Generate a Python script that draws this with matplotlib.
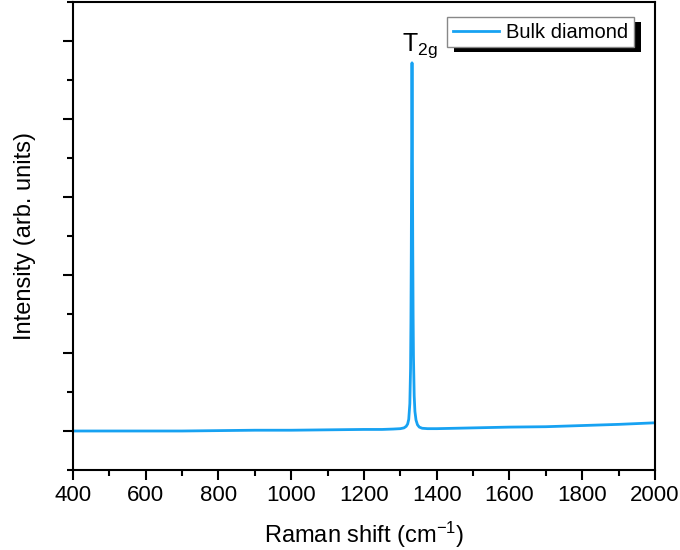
import matplotlib

matplotlib.use("Agg")
import matplotlib.pyplot as plt
from matplotlib.patches import Rectangle
from matplotlib.ticker import MultipleLocator

plt.rcParams["font.family"] = ["Liberation Sans", "DejaVu Sans"]
plt.rcParams["mathtext.default"] = "regular"

# Raman spectrum of bulk diamond
shift = [400, 500, 600, 700, 800, 900, 1000, 1100, 1200, 1250, 1280, 1300, 1310,
         1316, 1320, 1323, 1326, 1328, 1329, 1330, 1331, 1332, 1333, 1334, 1335,
         1336, 1338, 1340, 1343, 1347, 1352, 1360, 1375, 1400, 1500, 1600, 1700,
         1800, 1900, 2000]
intensity = [0.0, 0.0, 0.0, 0.0, 0.005, 0.01, 0.01, 0.015, 0.02, 0.02, 0.025, 0.03, 0.04,
             0.06, 0.09, 0.15, 0.35, 0.8, 1.4, 2.3, 3.6, 4.72, 3.7, 2.4, 1.5,
             0.95, 0.45, 0.25, 0.14, 0.08, 0.05, 0.035, 0.03, 0.03, 0.04, 0.05, 0.055,
             0.07, 0.085, 0.105]
series_label = "Bulk diamond"
peak_label = r"T$_{2g}$"
peak_pos = 1332
line_color = "#17A2F2"

fig = plt.figure(figsize=(6.8, 5.5), dpi=100)
ax = fig.add_axes([73 / 680, 80 / 550, 582 / 680, 468 / 550])

ax.plot(shift, intensity, color=line_color, lw=2, label=series_label)
ax.annotate(peak_label, xy=(peak_pos, max(intensity)), xytext=(-7, 2),
            textcoords="offset points", ha="left", va="bottom", fontsize=18)

ax.set_xlim(400, 2000)
ax.set_ylim(-0.5, 5.5)
ax.xaxis.set_major_locator(MultipleLocator(200))
ax.xaxis.set_minor_locator(MultipleLocator(100))
ax.yaxis.set_major_locator(MultipleLocator(1))
ax.yaxis.set_minor_locator(MultipleLocator(0.5))
ax.set_yticklabels([])
ax.tick_params(which="both", direction="out", width=1.5, top=False, right=False, labelsize=16)
ax.tick_params(which="major", length=7)
ax.tick_params(which="minor", length=4)
for sp in ax.spines.values():
    sp.set_linewidth(1.5)

ax.set_xlabel(r"Raman shift (cm$^{-1}$)", fontsize=17, labelpad=10)
ax.set_ylabel("Intensity (arb. units)", fontsize=17, labelpad=16)

leg = ax.legend(loc="upper right", bbox_to_anchor=(0.964, 0.968), fontsize=14.5,
                fancybox=False, edgecolor="#888888", framealpha=1, borderpad=0.28,
                handlelength=2.3, handletextpad=0.35, borderaxespad=0)
leg.get_frame().set_linewidth(1.0)

# solid black drop shadow behind the legend box
fig.canvas.draw()
bb = leg.get_window_extent()
shadow = Rectangle((bb.x0 + 7, bb.y0 - 5), bb.width, bb.height, transform=None,
                   facecolor="black", edgecolor="none", zorder=leg.get_zorder() - 0.1)
ax.add_patch(shadow)

fig.savefig("out.png", dpi=100)
